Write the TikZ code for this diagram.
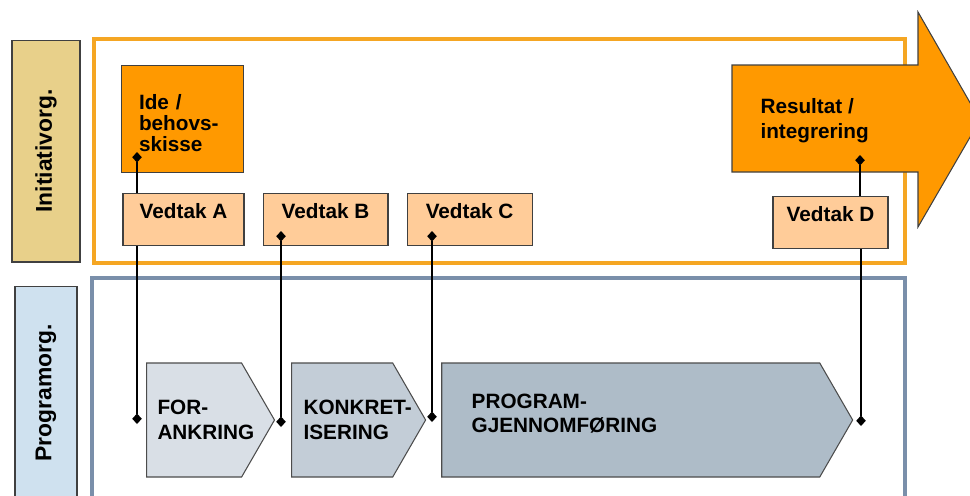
\documentclass[tikz,border=0pt]{standalone}
\usepackage{fontspec}
\setmainfont{Liberation Sans}
\usetikzlibrary{positioning,shapes.symbols,arrows.meta}

\definecolor{initfill}{HTML}{E8D08A}
\definecolor{progfill}{HTML}{CFE1EF}
\definecolor{frameorange}{HTML}{F5A623}
\definecolor{framegray}{HTML}{7A8FAA}
\definecolor{idefill}{HTML}{FF9900}
\definecolor{vedtakfill}{HTML}{FFCC99}
\definecolor{phaseA}{HTML}{D9DFE6}
\definecolor{phaseB}{HTML}{C3CDD7}
\definecolor{phaseC}{HTML}{AEBCC8}

\tikzstyle{org} = [rectangle, rotate=90, draw=black!75, font=\fontsize{13}{15}\selectfont\bfseries]
\tikzstyle{idea} = [rectangle, draw=black!75, fill=idefill, minimum width=2.44cm, minimum height=2.14cm, text width=1.74cm, text depth=0.68cm, align=left, font=\fontsize{11.8}{12}\selectfont\bfseries]
\tikzstyle{vedtak} = [rectangle, draw=black!75, fill=vedtakfill, minimum width=2.5cm, inner ysep=0pt, text height=0.5cm, text depth=0.54cm, font=\fontsize{11.8}{13}\selectfont\bfseries]
\tikzstyle{phase} = [signal, signal to=east, signal pointer angle=120, draw=black!70, minimum height=2.28cm]
\tikzstyle{phasetext} = [anchor=west, inner sep=0pt, align=left, font=\fontsize{11.8}{14.2}\selectfont\bfseries]
\tikzstyle{frame} = [line width=0.08cm]

\begin{document}
\begin{tikzpicture}[x=0.02cm,y=-0.02cm,semithick,>={Diamond[length=2.1mm,width=1.9mm]}]
\useasboundingbox (0,0) rectangle (970,495);

% side labels
\node[org, fill=initfill, minimum width=4.44cm, minimum height=1.36cm] (LI) at (46,151) {Initiativorg.};
\node[org, fill=progfill, minimum width=4.26cm, minimum height=1.24cm] (LP) at (46,393) {Programorg.};

% the two frames
\draw[frame, frameorange] (94,39) rectangle (905,263);
\draw[frame, framegray] (92,278) rectangle (905,510);

% initiative level
\node[idea, anchor=north west] (ID) at (121,65) {Ide /\\behovs-\\skisse};

\node[vedtak, anchor=north, minimum width=2.42cm] (VA) at (183.5,193) {Vedtak A};
\node[vedtak] (VB) [right=0.36cm of VA] {Vedtak B};
\node[vedtak] (VC) [right=0.36cm of VB] {Vedtak C};
\node[vedtak, anchor=north, minimum width=2.3cm] (VD) at (830.5,196) {Vedtak D};

% result arrow
\draw[draw=black!75, fill=idefill] (732,65) -- (918,65) -- (918,12) -- (980,120)
    -- (918,227) -- (918,172) -- (732,172) -- cycle;
\node[anchor=west, inner sep=0pt, align=left, font=\fontsize{11.8}{14.2}\selectfont\bfseries] (RI) at (760,121) {Resultat /\\integrering};

% programme level
\node[phase, fill=phaseA, minimum width=2.56cm, anchor=west] (FA) at (146,420) {};
\node[phase, fill=phaseB, minimum width=2.68cm] (KI) [right=0.32cm of FA] {};
\node[phase, fill=phaseC, minimum width=8.22cm] (PG) [right=0.3cm of KI] {};

\node[phasetext] (FAt) at ([xshift=0.22cm]FA.west) {FOR-\\ANKRING};
\node[phasetext] (KIt) at ([xshift=0.24cm]KI.west) {KONKRET-\\ISERING};
\node[phasetext, font=\fontsize{11.8}{13.7}\selectfont\bfseries] (PGt) at ([xshift=0.6cm,yshift=0.13cm]PG.west) {PROGRAM-\\GJENNOMFØRING};

% decision lines
\coordinate (dI) at (137,152);
\coordinate (pA) at (137,424);
\coordinate (dB) at (281,231);
\coordinate (pB) at (281,427);
\coordinate (dC) at (432,231);
\coordinate (pC) at (432,422);
\coordinate (dR) at (860,155);
\coordinate (pD) at (861,426);

\draw[->] (dI |- VA.north) -- (dI);
\draw[->] (pA |- VA.south) -- (pA);
\draw[<->] (dB) -- (pB);
\draw[<->] (dC) -- (pC);
\draw[->] (dR |- VD.north) -- (dR);
\draw[->] (pD |- VD.south) -- (pD);

\end{tikzpicture}
\end{document}
